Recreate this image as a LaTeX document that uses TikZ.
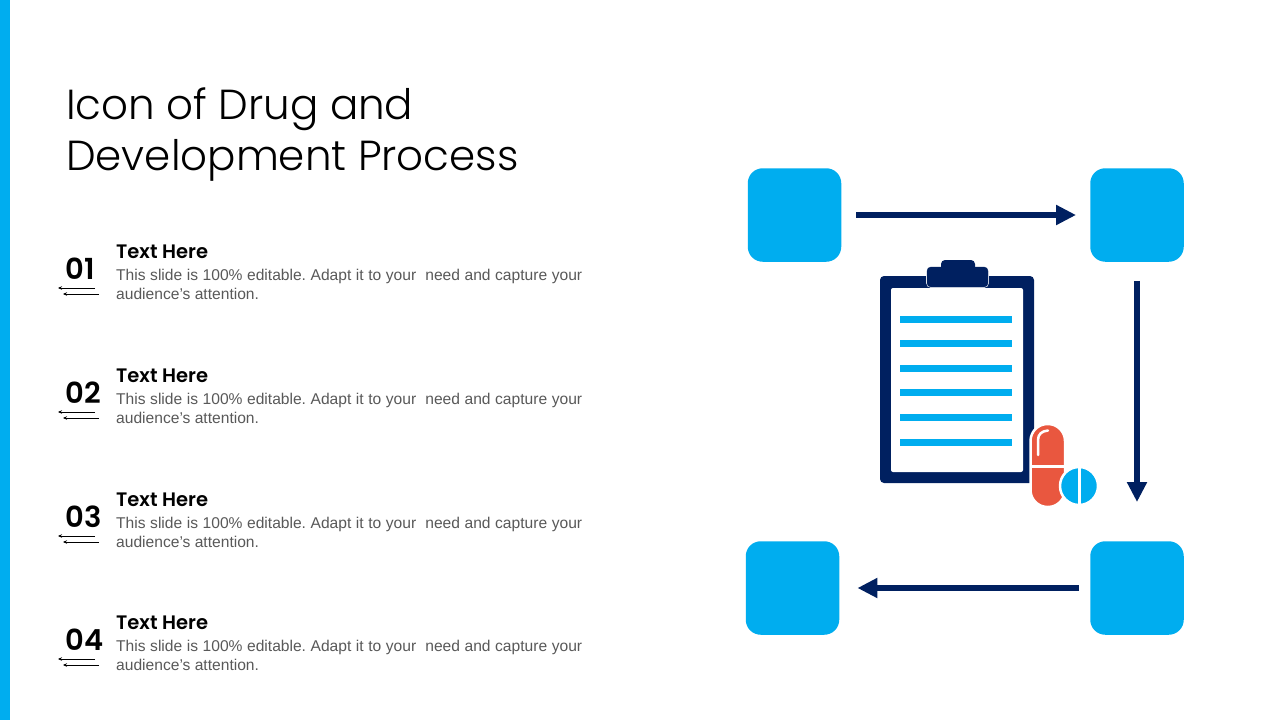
\documentclass[tikz,border=0pt]{standalone}
\usepackage{fontspec}
\setmainfont{Liberation Sans}
\newfontfamily\headfont{Poppins Light}
\newfontfamily\labelfont{Poppins SemiBold}
\definecolor{navy}{HTML}{002060}
\definecolor{sky}{HTML}{00ADEF}
\definecolor{coral}{HTML}{E9573F}
\definecolor{bodygray}{HTML}{595959}
\usetikzlibrary{arrows.meta}
\tikzset{
  x=1pt,y=-1pt,
  tile/.style={fill=sky,draw=none,rounded corners=15pt,minimum width=#1,minimum height=#1,inner sep=0pt},
  flow/.style={draw=navy,line width=6pt,-{Triangle[length=20pt,width=19pt]}},
  numtext/.style={font=\labelfont\fontsize{29}{29}\selectfont,text=black,inner sep=0pt,anchor=west},
  headtext/.style={font=\labelfont\fontsize{19.5}{22}\selectfont,text=black,inner sep=0pt,anchor=west},
  bodytext/.style={font=\frenchspacing\fontsize{15.6}{19.2}\selectfont,text=bodygray,inner sep=0pt,anchor=north west,align=left},
  thin arrow/.style={draw=black,line width=0.9pt,-{Stealth[length=4pt,width=3.5pt]}},
  sheetline/.style={fill=sky,draw=none},
}
\newcommand{\itemrow}[3]{%
  \node[numtext] (num#1) at (65.5,#2+17.5) {#3};
  \node[headtext] (head#1) at (116,#2+0.5) {Text Here};
  \node[bodytext] (body#1) at (116,#2+18) {\makebox[466pt][s]{This slide is 100\% editable. Adapt it to your \ need and capture your}\\audience’s attention.};
  \coordinate (a#1s) at (95,#2+37);
  \coordinate (a#1e) at (58,#2+37);
  \coordinate (b#1s) at (99,#2+43);
  \coordinate (b#1e) at (63,#2+43);
  \draw[thin arrow] (a#1s) -- (a#1e);
  \draw[thin arrow] (b#1s) -- (b#1e);
}
\begin{document}
\begin{tikzpicture}
\useasboundingbox (0,0) rectangle (1280,720);
\fill[white] (0,0) rectangle (1280,720);
\fill[sky] (0,0) rectangle (10,720);
\node[font=\headfont\fontsize{42}{51}\selectfont,text=black,inner sep=0pt,anchor=north west,align=left] (title) at (66,88) {Icon of Drug and\\Development Process};
\itemrow{1}{251}{01}
\itemrow{2}{375}{02}
\itemrow{3}{499}{03}
\itemrow{4}{622}{04}
% tiles
\node[tile=93.5pt] (tl) at (794.5,215) {};
\node[tile=93.5pt] (tr) at (1137,215) {};
\node[tile=93.5pt] (br) at (1137,588) {};
\node[tile=93.5pt] (bl) at (792.5,588) {};
\draw[flow,shorten <=15pt,shorten >=14pt] (tl.east) -- (tr.west);
\draw[flow,shorten <=19pt,shorten >=39pt] (tr.south) -- (br.north);
\draw[flow,shorten <=11pt,shorten >=18pt] (br.west) -- (bl.east);
% clipboard
\fill[navy,rounded corners=4pt] (880,276) rectangle (1034,483);
\fill[white,rounded corners=2pt] (891,288) rectangle (1023,472);
\filldraw[navy,rounded corners=4pt,preaction={draw=white,line width=1.6pt}] (927,267) rectangle (988,287);
\fill[navy,rounded corners=4pt] (941,260) rectangle (975,272);
\foreach \ly in {319,343,368,392.5,417,442}{\fill[sheetline] (900,\ly-3.5) rectangle (1012,\ly+3.5);}
% capsule
\fill[coral,draw=white,line width=2.5pt,rounded corners=17pt] (1030.5,424) rectangle (1065,507);
\fill[white] (1031,465) rectangle (1066,468);
\draw[white,line width=2.5pt,line cap=round] (1038,455) -- (1038,440) .. controls (1038,434) and (1042,431) .. (1048,430.5);
% pill
\fill[sky,draw=white,line width=2.5pt] (1079,486) circle[radius=19];
\fill[white] (1078,466) rectangle (1080.5,506);
\end{tikzpicture}
\end{document}
